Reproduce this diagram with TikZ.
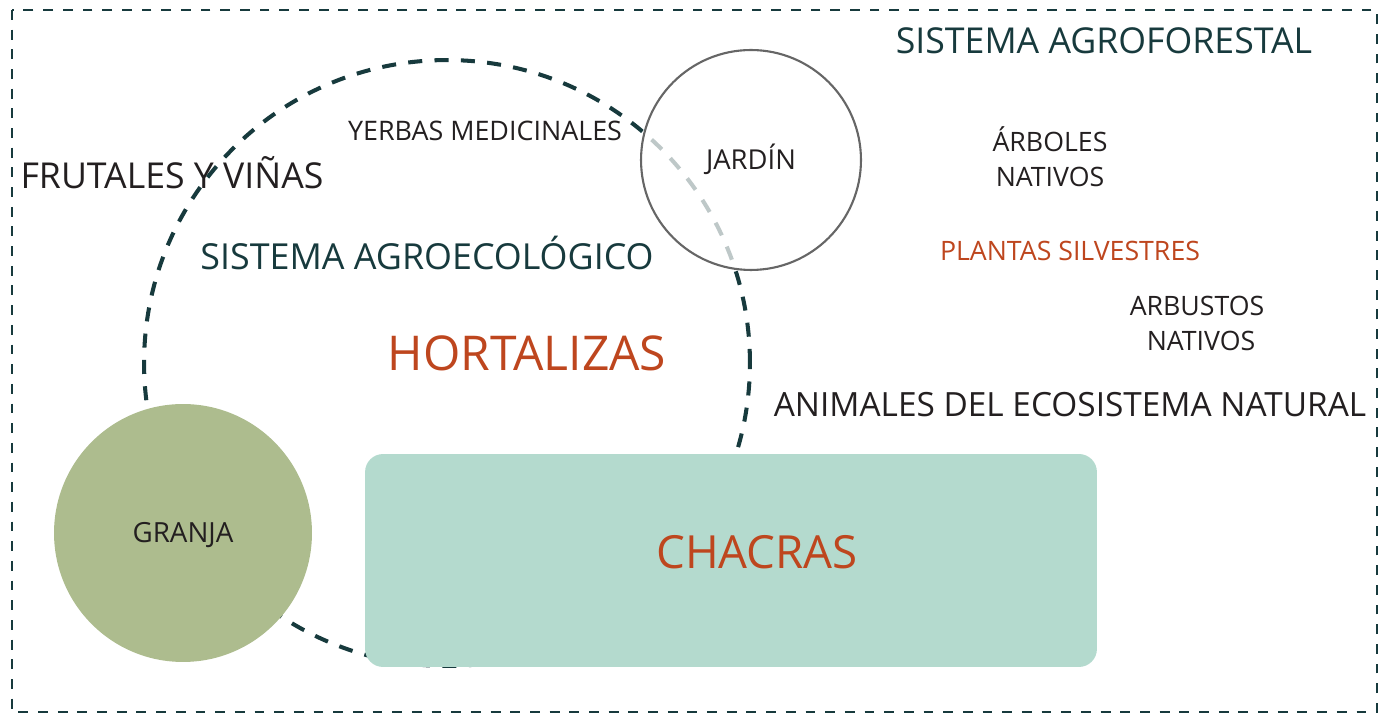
\documentclass[tikz,border=0pt]{standalone}
\usepackage{fontspec}
\setmainfont{Open Sans}
\definecolor{verdeosc}{RGB}{23,58,61}
\definecolor{naranja}{RGB}{190,70,30}
\definecolor{tinta}{RGB}{35,31,32}
\definecolor{granjaverde}{RGB}{173,188,142}
\definecolor{chacraverde}{RGB}{180,218,206}
\definecolor{gris}{RGB}{102,102,102}

\begin{document}
\begin{tikzpicture}[x=0.02cm,y=-0.02cm,
  etiq/.style={inner sep=0pt,anchor=base,text=tinta,font=\fontsize{15.2}{18}\selectfont},
  grande/.style={etiq,font=\fontsize{20.3}{24}\selectfont},
  enorme/.style={etiq,text=naranja,font=\fontsize{26}{30}\selectfont}]
\useasboundingbox (0,0) rectangle (1387,715);
\draw[verdeosc,line width=1.1pt,dash pattern=on 5.6pt off 5.6pt] (12,10) rectangle (1377,712);

\node[grande] (frutales) at (172,188.5) {FRUTALES Y VIÑAS};
\node[circle,draw=verdeosc,line width=2.3pt,dash pattern=on 8pt off 7pt,minimum size=12.12cm,inner sep=0pt] (agro) at (447,363) {};

\node[circle,fill=granjaverde,minimum size=5.16cm,inner sep=0pt,text=tinta,text height=11pt,text depth=0pt,font=\fontsize{15.8}{18}\selectfont] (granja) at (183,533) {GRANJA};
\node[rectangle,rounded corners=0.36cm,fill=chacraverde,minimum width=14.64cm,minimum height=4.26cm] (chacras) at (731,560.5) {};
\node[enorme] (chacrastxt) at (757,568.5) {CHACRAS};
\node[circle,draw=gris,line width=1.2pt,fill=white,fill opacity=0.72,text opacity=1,minimum size=4.4cm,inner sep=0pt,text=tinta,text height=11pt,text depth=0pt,font=\fontsize{15.6}{18}\selectfont] (jardin) at (751,160) {JARDÍN};

\node[grande,text=verdeosc] (agroforestal) at (1104,54) {SISTEMA AGROFORESTAL};
\node[etiq] (arboles) at (1050,151.5) {ÁRBOLES};
\node[etiq] (arbolesnat) at (1050,186.5) {NATIVOS};
\node[etiq,text=naranja] (silvestres) at (1070,260.5) {PLANTAS SILVESTRES};
\node[etiq] (arbustos) at (1197,315.5) {ARBUSTOS};
\node[etiq] (arbustosnat) at (1201,350.5) {NATIVOS};
\node[grande,font=\fontsize{19}{24}\selectfont] (animales) at (1070,417) {ANIMALES DEL ECOSISTEMA NATURAL};

\node[etiq,font=\fontsize{15.3}{18}\selectfont] (yerbas) at (485,141) {YERBAS MEDICINALES};
\node[grande,text=verdeosc,font=\fontsize{20.4}{24}\selectfont] (agroeco) at (427,270) {SISTEMA AGROECOLÓGICO};
\node[enorme,font=\fontsize{27.3}{30}\selectfont] (hortalizas) at (527,371) {HORTALIZAS};
\end{tikzpicture}
\end{document}
